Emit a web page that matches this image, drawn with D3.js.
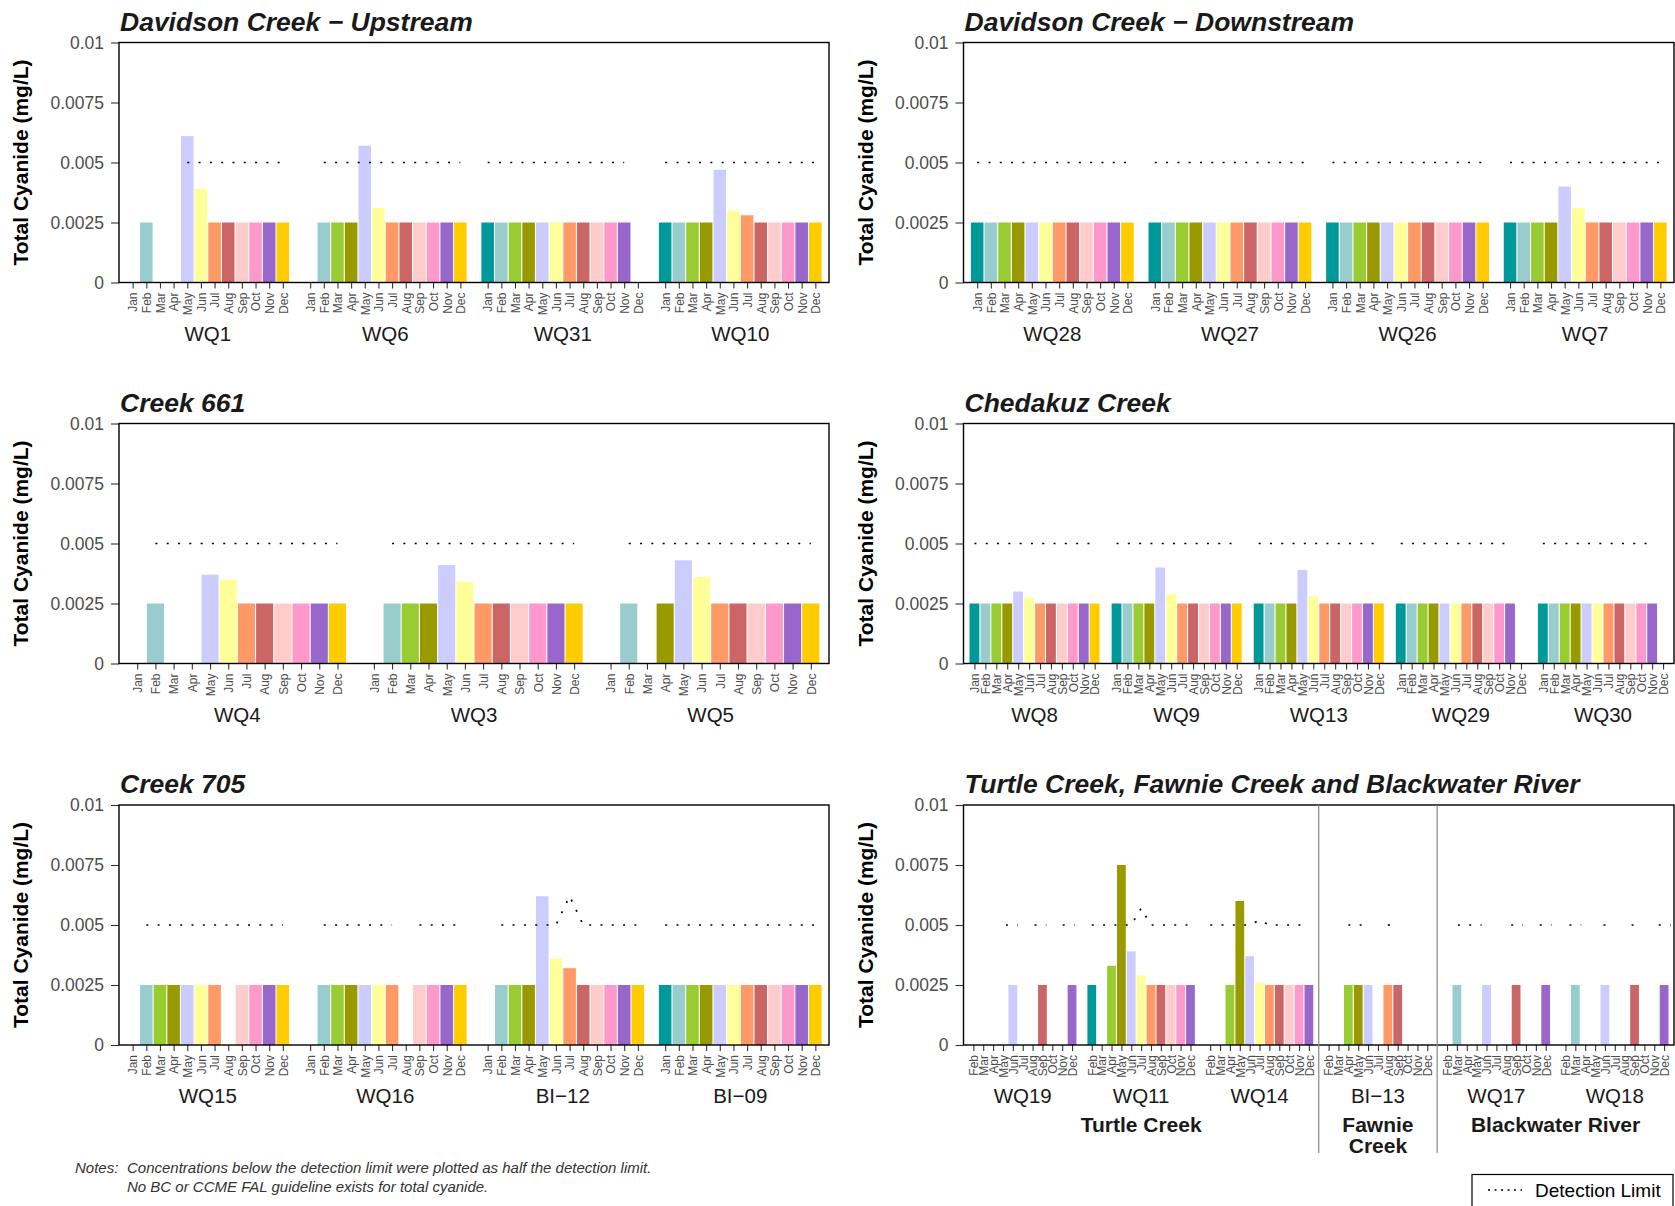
<!DOCTYPE html>
<html><head><meta charset="utf-8">
<script src="https://cdn.jsdelivr.net/npm/d3@7"></script>
<style>
body{margin:0;background:#fff}
svg{display:block}
text{font-family:"Liberation Sans",Arial,Helvetica,sans-serif}
</style>
</head><body>
<svg id="chart" width="1675" height="1206"></svg>
<script>
// ---------------- DATA ----------------
const months = ["Jan","Feb","Mar","Apr","May","Jun","Jul","Aug","Sep","Oct","Nov","Dec"];
const monthColors = ["#009999","#99CCCC","#99CC33","#999900","#CCCCFF","#FFFF99","#FF9966","#CC6666","#FFCCCC","#FF99CC","#9966CC","#FFCC00"];
const yTicks = [0, 0.0025, 0.005, 0.0075, 0.01];
const yTickLabels = ["0","0.0025","0.005","0.0075","0.01"];
const yLabel = "Total Cyanide (mg/L)";
const N = null;

// Panel 1 : Davidson Creek − Upstream
const p1Title = "Davidson Creek \u2212 Upstream";
const p1Stations = ["WQ1","WQ6","WQ31","WQ10"];
const p1Values = [
  [N,0.0025,N,N,0.0061,0.0039,0.0025,0.0025,0.0025,0.0025,0.0025,0.0025],
  [N,0.0025,0.0025,0.0025,0.0057,0.0031,0.0025,0.0025,0.0025,0.0025,0.0025,0.0025],
  [0.0025,0.0025,0.0025,0.0025,0.0025,0.0025,0.0025,0.0025,0.0025,0.0025,0.0025,N],
  [0.0025,0.0025,0.0025,0.0025,0.0047,0.0030,0.0028,0.0025,0.0025,0.0025,0.0025,0.0025]
];
const p1Limits = [
  [N,N,N,N,0.005,0.005,0.005,0.005,0.005,0.005,0.005,0.005],
  [N,0.005,0.005,0.005,0.005,0.005,0.005,0.005,0.005,0.005,0.005,0.005],
  [0.005,0.005,0.005,0.005,0.005,0.005,0.005,0.005,0.005,0.005,0.005,N],
  [0.005,0.005,0.005,0.005,0.005,0.005,0.005,0.005,0.005,0.005,0.005,0.005]
];

// Panel 2 : Davidson Creek − Downstream
const p2Title = "Davidson Creek \u2212 Downstream";
const p2Stations = ["WQ28","WQ27","WQ26","WQ7"];
const p2Values = [
  [0.0025,0.0025,0.0025,0.0025,0.0025,0.0025,0.0025,0.0025,0.0025,0.0025,0.0025,0.0025],
  [0.0025,0.0025,0.0025,0.0025,0.0025,0.0025,0.0025,0.0025,0.0025,0.0025,0.0025,0.0025],
  [0.0025,0.0025,0.0025,0.0025,0.0025,0.0025,0.0025,0.0025,0.0025,0.0025,0.0025,0.0025],
  [0.0025,0.0025,0.0025,0.0025,0.0040,0.0031,0.0025,0.0025,0.0025,0.0025,0.0025,0.0025]
];
const p2Limits = [
  [0.005,0.005,0.005,0.005,0.005,0.005,0.005,0.005,0.005,0.005,0.005,0.005],
  [0.005,0.005,0.005,0.005,0.005,0.005,0.005,0.005,0.005,0.005,0.005,0.005],
  [0.005,0.005,0.005,0.005,0.005,0.005,0.005,0.005,0.005,0.005,0.005,0.005],
  [0.005,0.005,0.005,0.005,0.005,0.005,0.005,0.005,0.005,0.005,0.005,0.005]
];

// Panel 3 : Creek 661
const p3Title = "Creek 661";
const p3Stations = ["WQ4","WQ3","WQ5"];
const p3Values = [
  [N,0.0025,N,N,0.0037,0.0035,0.0025,0.0025,0.0025,0.0025,0.0025,0.0025],
  [N,0.0025,0.0025,0.0025,0.0041,0.0034,0.0025,0.0025,0.0025,0.0025,0.0025,0.0025],
  [N,0.0025,N,0.0025,0.0043,0.0036,0.0025,0.0025,0.0025,0.0025,0.0025,0.0025]
];
const p3Limits = [
  [N,0.005,0.005,0.005,0.005,0.005,0.005,0.005,0.005,0.005,0.005,0.005],
  [N,0.005,0.005,0.005,0.005,0.005,0.005,0.005,0.005,0.005,0.005,0.005],
  [N,0.005,0.005,0.005,0.005,0.005,0.005,0.005,0.005,0.005,0.005,0.005]
];

// Panel 4 : Chedakuz Creek
const p4Title = "Chedakuz Creek";
const p4Stations = ["WQ8","WQ9","WQ13","WQ29","WQ30"];
const p4Values = [
  [0.0025,0.0025,0.0025,0.0025,0.0030,0.00275,0.0025,0.0025,0.0025,0.0025,0.0025,0.0025],
  [0.0025,0.0025,0.0025,0.0025,0.0040,0.0029,0.0025,0.0025,0.0025,0.0025,0.0025,0.0025],
  [0.0025,0.0025,0.0025,0.0025,0.0039,0.0028,0.0025,0.0025,0.0025,0.0025,0.0025,0.0025],
  [0.0025,0.0025,0.0025,0.0025,0.0025,0.0025,0.0025,0.0025,0.0025,0.0025,0.0025,N],
  [0.0025,0.0025,0.0025,0.0025,0.0025,0.0025,0.0025,0.0025,0.0025,0.0025,0.0025,N]
];
const p4Limits = [
  [0.005,0.005,0.005,0.005,0.005,0.005,0.005,0.005,0.005,0.005,0.005,0.005],
  [0.005,0.005,0.005,0.005,0.005,0.005,0.005,0.005,0.005,0.005,0.005,0.005],
  [0.005,0.005,0.005,0.005,0.005,0.005,0.005,0.005,0.005,0.005,0.005,0.005],
  [0.005,0.005,0.005,0.005,0.005,0.005,0.005,0.005,0.005,0.005,0.005,N],
  [0.005,0.005,0.005,0.005,0.005,0.005,0.005,0.005,0.005,0.005,0.005,N]
];

// Panel 5 : Creek 705
const p5Title = "Creek 705";
const p5Stations = ["WQ15","WQ16","BI\u221212","BI\u221209"];
const p5Values = [
  [N,0.0025,0.0025,0.0025,0.0025,0.0025,0.0025,N,0.0025,0.0025,0.0025,0.0025],
  [N,0.0025,0.0025,0.0025,0.0025,0.0025,0.0025,N,0.0025,0.0025,0.0025,0.0025],
  [N,0.0025,0.0025,0.0025,0.0062,0.0036,0.0032,0.0025,0.0025,0.0025,0.0025,0.0025],
  [0.0025,0.0025,0.0025,0.0025,0.0025,0.0025,0.0025,0.0025,0.0025,0.0025,0.0025,0.0025]
];
const p5Limits = [
  [N,0.005,0.005,0.005,0.005,0.005,0.005,0.005,0.005,0.005,0.005,0.005],
  [N,0.005,0.005,0.005,0.005,0.005,0.005,N,0.005,0.005,0.005,0.005],
  [N,0.005,0.005,0.005,0.005,0.005,0.0062,0.005,0.005,0.005,0.005,0.005],
  [0.005,0.005,0.005,0.005,0.005,0.005,0.005,0.005,0.005,0.005,0.005,0.005]
];

// Panel 6 : Turtle Creek, Fawnie Creek and Blackwater River
const p6Title = "Turtle Creek, Fawnie Creek and Blackwater River";
const p6Months = ["Feb","Mar","Apr","May","Jun","Jul","Aug","Sep","Oct","Nov","Dec"];
const p6ColorIndex = [0,1,2,3,4,5,6,7,8,9,10];
const p6Stations = ["WQ19","WQ11","WQ14","BI\u221213","WQ17","WQ18"];
const p6Values = [
  [N,N,N,N,0.0025,N,N,0.0025,N,N,0.0025],
  [0.0025,N,0.0033,0.0075,0.0039,0.0029,0.0025,0.0025,0.0025,0.0025,0.0025],
  [N,N,0.0025,0.0060,0.0037,0.0026,0.0025,0.0025,0.0025,0.0025,0.0025],
  [N,N,0.0025,0.0025,0.0025,N,0.0025,0.0025,N,N,N],
  [N,0.0025,N,N,0.0025,N,N,0.0025,N,N,0.0025],
  [N,0.0025,N,N,0.0025,N,N,0.0025,N,N,0.0025]
];
// detection-limit runs: [position (1 = first tick, by sample date), limit]
const p6LimitRuns = [
  [[[4.3,0.005],[5.5,0.005]], [[7.2,0.005],[8.4,0.005]], [[10.05,0.005],[11.25,0.005]]],
  [[[1,0.005],[5,0.005],[6,0.0057],[7,0.005],[11,0.005]]],
  [[[1,0.005],[5,0.005],[6,0.0052],[7,0.005],[11,0.005]]],
  [[[3,0.005],[5,0.005]], [[7,0.005],[8,0.005]]],
  [[[2.1,0.005],[4.5,0.005]], [[7.5,0.005],[8.7,0.005]], [[10.4,0.005],[11.6,0.005]]],
  [[[1.4,0.005],[2.6,0.005]], [[4.85,0.005],[6.0,0.005]], [[7.7,0.005],[8.85,0.005]], [[10.45,0.005],[11.65,0.005]]]
];
const p6Regions = [["Turtle Creek"],["Fawnie","Creek"],["Blackwater River"]];
const p6RegionSpans = [[0,2],[3,3],[4,5]];

const notes1Head = "Notes:";
const notes1 = "Concentrations below the detection limit were plotted as half the detection limit.";
const notes2 = "No BC or CCME FAL guideline exists for total cyanide.";
const legendLabel = "Detection Limit";

// ---------------- DRAW ----------------
const svg = d3.select("#chart");
const dash = "2 9.3";

function monthRuns(row){
  const runs = []; let run = [];
  row.forEach((v, i) => { if (v == null) { if (run.length) runs.push(run); run = []; } else run.push([i + 1, v]); });
  if (run.length) runs.push(run);
  return runs;
}

function drawPanel(cfg){
  const {left, right, top, bottom, title, stations, values, labels, colorIdx} = cfg;
  const runsBy = cfg.limitRuns || cfg.limits.map(monthRuns);
  const n = labels.length, per = n + 1, total = stations.length * per;
  const x = d3.scaleLinear().domain([0, total]).range([left, right]);
  const y = d3.scaleLinear().domain([0, 0.01]).range([bottom, top]);
  const unit = x(1) - x(0);
  const bw = unit - 1.1;
  const g = svg.append("g");
  const pos = (s, i) => s * per + i + 1;

  // bars
  const bars = [];
  values.forEach((row, s) => row.forEach((v, i) => { if (v != null) bars.push({s, i, v}); }));
  g.selectAll("rect.bar").data(bars).enter().append("rect")
    .attr("x", d => x(pos(d.s, d.i)) - bw / 2)
    .attr("width", bw)
    .attr("y", d => y(d.v))
    .attr("height", d => y(0) - y(d.v))
    .attr("fill", d => monthColors[colorIdx[d.i]]);

  // detection limit lines
  runsBy.forEach((runs, s) => runs.forEach(run => {
    if (run.length < 2) return;
    const line = d3.line().x(d => x(s * per + d[0])).y(d => y(d[1]));
    g.append("path").attr("d", line(run)).attr("fill", "none")
      .attr("stroke", "#000").attr("stroke-width", 1.7).attr("stroke-dasharray", dash);
  }));

  // y axis
  const ya = g.append("g").attr("transform", `translate(${left},0)`)
    .call(d3.axisLeft(y).tickValues(yTicks).tickFormat((d, i) => yTickLabels[i]).tickSize(8).tickPadding(7));
  ya.select(".domain").remove();
  ya.selectAll(".tick line").attr("stroke", "#333").attr("stroke-width", 1.1);
  ya.selectAll(".tick text").attr("fill", "#4d4d4d").style("font-size", "17.5px").style("font-family", "Liberation Sans, Arial, sans-serif");

  // x axis (months)
  const tickPos = [], tickLab = [];
  stations.forEach((st, s) => labels.forEach((m, i) => { tickPos.push(pos(s, i)); tickLab.push(m); }));
  const xa = g.append("g").attr("transform", `translate(0,${bottom})`)
    .call(d3.axisBottom(x).tickValues(tickPos).tickFormat((d, i) => tickLab[i]).tickSize(6));
  xa.select(".domain").remove();
  xa.selectAll(".tick line").attr("stroke", "#333").attr("stroke-width", 1.1);
  xa.selectAll(".tick text")
    .attr("transform", "rotate(-90)")
    .attr("x", -10).attr("y", 0).attr("dy", "0.36em")
    .style("text-anchor", "end")
    .attr("fill", "#4d4d4d")
    .style("font-size", "12px")
    .style("font-family", "Liberation Sans, Arial, sans-serif");

  // station labels
  g.selectAll("text.st").data(stations).enter().append("text")
    .attr("x", (d, s) => x(s * per + per / 2))
    .attr("y", bottom + 58)
    .attr("text-anchor", "middle")
    .attr("fill", "#1a1a1a")
    .style("font-size", "20.5px")
    .text(d => d);

  // border
  g.append("rect").attr("x", left).attr("y", top).attr("width", right - left).attr("height", bottom - top)
    .attr("fill", "none").attr("stroke", "#000").attr("stroke-width", 1.4);

  // title
  g.append("text").attr("x", left + 1).attr("y", top - 12)
    .style("font-size", "26.5px").style("font-weight", "bold").style("font-style", "italic")
    .attr("fill", "#1a1a1a").text(title);

  // y label
  g.append("text").attr("transform", `translate(${left - 98},${(top + bottom) / 2}) rotate(-90)`)
    .attr("text-anchor", "middle").attr("dy", "0.35em")
    .style("font-size", "21px").style("font-weight", "bold").attr("fill", "#000").text(yLabel);

  return {x, y, per, g};
}

const L = [119, 829], R = [963.5, 1674];
const rows = [[42.5, 282.5], [423.5, 663.5], [805, 1045]];

drawPanel({left:L[0], right:L[1], top:rows[0][0], bottom:rows[0][1], title:p1Title, stations:p1Stations, values:p1Values, limits:p1Limits, labels:months, colorIdx:d3.range(12)});
drawPanel({left:R[0], right:R[1], top:rows[0][0], bottom:rows[0][1], title:p2Title, stations:p2Stations, values:p2Values, limits:p2Limits, labels:months, colorIdx:d3.range(12)});
drawPanel({left:L[0], right:L[1], top:rows[1][0], bottom:rows[1][1], title:p3Title, stations:p3Stations, values:p3Values, limits:p3Limits, labels:months, colorIdx:d3.range(12)});
drawPanel({left:R[0], right:R[1], top:rows[1][0], bottom:rows[1][1], title:p4Title, stations:p4Stations, values:p4Values, limits:p4Limits, labels:months, colorIdx:d3.range(12)});
drawPanel({left:L[0], right:L[1], top:rows[2][0], bottom:rows[2][1], title:p5Title, stations:p5Stations, values:p5Values, limits:p5Limits, labels:months, colorIdx:d3.range(12)});
const p6 = drawPanel({left:R[0], right:R[1], top:rows[2][0], bottom:rows[2][1], title:p6Title, stations:p6Stations, values:p6Values, limitRuns:p6LimitRuns, labels:p6Months, colorIdx:p6ColorIndex});

// separators and region labels for panel 6
[3, 4].forEach(s => {
  p6.g.append("line").attr("x1", p6.x(s * p6.per)).attr("x2", p6.x(s * p6.per))
    .attr("y1", rows[2][0]).attr("y2", 1153).attr("stroke", "#888").attr("stroke-width", 1.2);
});
p6Regions.forEach((lines, r) => {
  const [a, b] = p6RegionSpans[r];
  const cx = (p6.x(a * p6.per) + p6.x((b + 1) * p6.per)) / 2;
  lines.forEach((t, k) => {
    p6.g.append("text").attr("x", cx).attr("y", 1132 + k * 21)
      .attr("text-anchor", "middle").style("font-size", "21px").style("font-weight", "bold")
      .attr("fill", "#1a1a1a").text(t);
  });
});

// notes
svg.append("text").attr("x", 75).attr("y", 1173).style("font-size", "15px").style("font-style", "italic").attr("fill", "#333").text(notes1Head);
svg.append("text").attr("x", 127).attr("y", 1173).style("font-size", "15px").style("font-style", "italic").attr("fill", "#333").text(notes1);
svg.append("text").attr("x", 127).attr("y", 1192).style("font-size", "15px").style("font-style", "italic").attr("fill", "#333").text(notes2);

// legend
const lg = svg.append("g");
lg.append("rect").attr("x", 1472).attr("y", 1174.5).attr("width", 201).attr("height", 45)
  .attr("fill", "#fff").attr("stroke", "#000").attr("stroke-width", 1.2);
lg.append("line").attr("x1", 1488).attr("x2", 1522).attr("y1", 1190).attr("y2", 1190)
  .attr("stroke", "#000").attr("stroke-width", 1.6).attr("stroke-dasharray", "2 4.5");
lg.append("text").attr("x", 1535).attr("y", 1197).style("font-size", "19px").attr("fill", "#000").text(legendLabel);
</script>
</body></html>
